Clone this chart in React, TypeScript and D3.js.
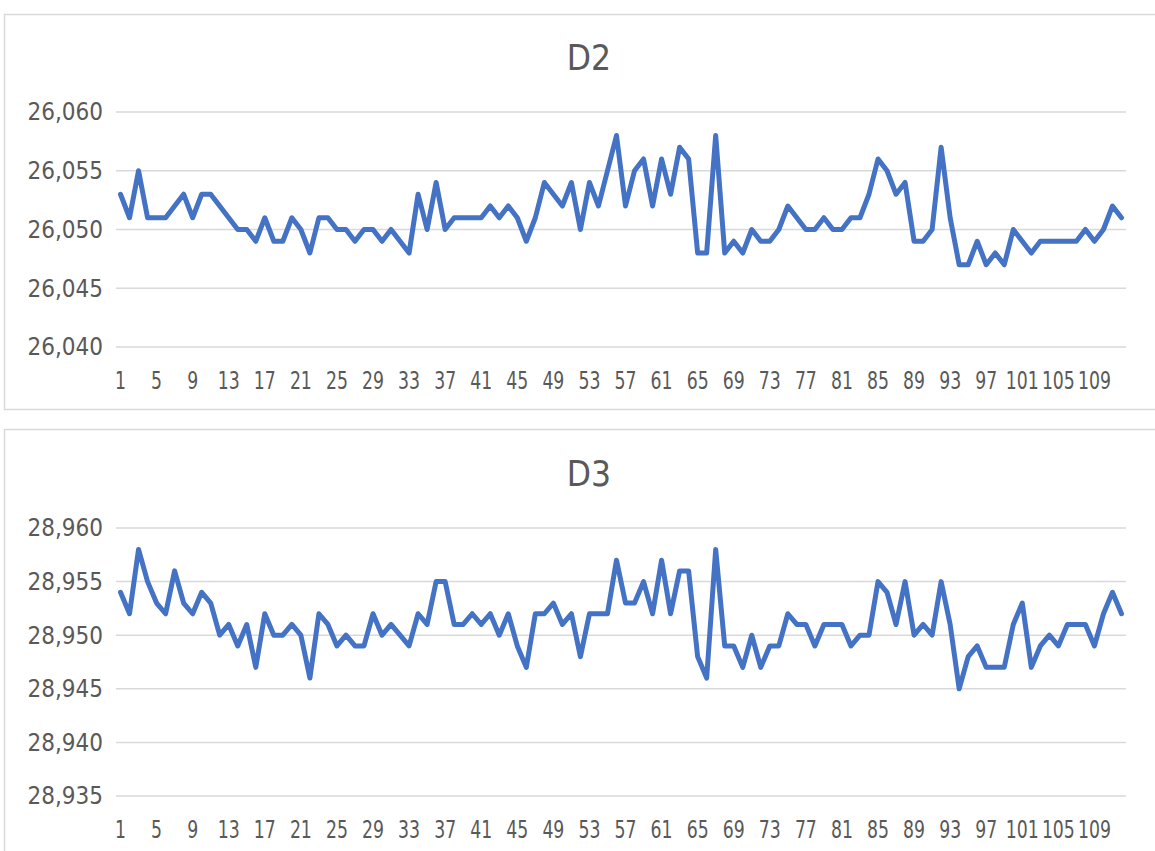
import React from "react";
import * as d3 from "d3";

const categories: number[] = Array.from({ length: 112 }, (_, i) => i + 1);

const d2Values: number[] = [
  26.053, 26.051, 26.055, 26.051, 26.051, 26.051, 26.052, 26.053, 26.051, 26.053,
  26.053, 26.052, 26.051, 26.050, 26.050, 26.049, 26.051, 26.049, 26.049, 26.051,
  26.050, 26.048, 26.051, 26.051, 26.050, 26.050, 26.049, 26.050, 26.050, 26.049,
  26.050, 26.049, 26.048, 26.053, 26.050, 26.054, 26.050, 26.051, 26.051, 26.051,
  26.051, 26.052, 26.051, 26.052, 26.051, 26.049, 26.051, 26.054, 26.053, 26.052,
  26.054, 26.050, 26.054, 26.052, 26.055, 26.058, 26.052, 26.055, 26.056, 26.052,
  26.056, 26.053, 26.057, 26.056, 26.048, 26.048, 26.058, 26.048, 26.049, 26.048,
  26.050, 26.049, 26.049, 26.050, 26.052, 26.051, 26.050, 26.050, 26.051, 26.050,
  26.050, 26.051, 26.051, 26.053, 26.056, 26.055, 26.053, 26.054, 26.049, 26.049,
  26.050, 26.057, 26.051, 26.047, 26.047, 26.049, 26.047, 26.048, 26.047, 26.050,
  26.049, 26.048, 26.049, 26.049, 26.049, 26.049, 26.049, 26.050, 26.049, 26.050,
  26.052, 26.051,
];

const d3Values: number[] = [
  28.954, 28.952, 28.958, 28.955, 28.953, 28.952, 28.956, 28.953, 28.952, 28.954,
  28.953, 28.950, 28.951, 28.949, 28.951, 28.947, 28.952, 28.950, 28.950, 28.951,
  28.950, 28.946, 28.952, 28.951, 28.949, 28.950, 28.949, 28.949, 28.952, 28.950,
  28.951, 28.950, 28.949, 28.952, 28.951, 28.955, 28.955, 28.951, 28.951, 28.952,
  28.951, 28.952, 28.950, 28.952, 28.949, 28.947, 28.952, 28.952, 28.953, 28.951,
  28.952, 28.948, 28.952, 28.952, 28.952, 28.957, 28.953, 28.953, 28.955, 28.952,
  28.957, 28.952, 28.956, 28.956, 28.948, 28.946, 28.958, 28.949, 28.949, 28.947,
  28.950, 28.947, 28.949, 28.949, 28.952, 28.951, 28.951, 28.949, 28.951, 28.951,
  28.951, 28.949, 28.950, 28.950, 28.955, 28.954, 28.951, 28.955, 28.950, 28.951,
  28.950, 28.955, 28.951, 28.945, 28.948, 28.949, 28.947, 28.947, 28.947, 28.951,
  28.953, 28.947, 28.949, 28.950, 28.949, 28.951, 28.951, 28.951, 28.949, 28.952,
  28.954, 28.952,
];

const d2Ticks: number[] = [26.04, 26.045, 26.05, 26.055, 26.06];
const d3Ticks: number[] = [28.935, 28.94, 28.945, 28.95, 28.955, 28.96];
const xTickLabels: number[] = categories.filter((c) => (c - 1) % 4 === 0);

const FONT = "'Liberation Sans Narrow', 'DejaVu Sans Condensed', 'Open Sans', sans-serif";
const TEXT = "#595959";
const GRID = "#d9d9d9";
const LINE = "#4472C4";

const fmt = (v: number) => d3.format(".3f")(v).replace(".", ",");

type PanelProps = {
  title: string;
  values: number[];
  ticks: number[];
  frameTop: number;
  frameHeight: number;
  titleY: number;
  plotTop: number;
  plotBottom: number;
  xLabelY: number;
};

function Panel(p: PanelProps) {
  const x = d3.scaleBand<number>().domain(categories).range([116, 1126]).padding(0);
  const y = d3
    .scaleLinear()
    .domain([p.ticks[0], p.ticks[p.ticks.length - 1]])
    .range([p.plotBottom, p.plotTop]);
  const cx = (c: number) => (x(c) as number) + x.bandwidth() / 2;
  const line = d3
    .line<number>()
    .x((_, i) => cx(categories[i]))
    .y((d) => y(d));
  return (
    <g>
      <rect
        x={4.5}
        y={p.frameTop + 0.5}
        width={1160}
        height={p.frameHeight}
        fill="#fff"
        stroke={GRID}
        strokeWidth={1.5}
      />
      <text
        x={589}
        y={p.titleY}
        textAnchor="middle"
        fill={TEXT}
        fontFamily={FONT}
        fontSize={35}
      >
        {p.title}
      </text>
      {p.ticks.map((t) => (
        <g key={t}>
          <line x1={116} x2={1126} y1={y(t)} y2={y(t)} stroke={GRID} strokeWidth={1.5} />
          <text
            x={103}
            y={y(t)}
            dy="0.35em"
            textAnchor="end"
            fill={TEXT}
            fontFamily={FONT}
            fontSize={24}
          >
            {fmt(t)}
          </text>
        </g>
      ))}
      {xTickLabels.map((c) => (
        <text
          key={c}
          x={cx(c)}
          y={p.xLabelY}
          textAnchor="middle"
          fill={TEXT}
          fontFamily={FONT}
          fontSize={24}
          transform={`translate(${cx(c)},0) scale(0.8,1) translate(${-cx(c)},0)`}
        >
          {c}
        </text>
      ))}
      <path
        d={line(p.values) || ""}
        fill="none"
        stroke={LINE}
        strokeWidth={5}
        strokeLinejoin="round"
        strokeLinecap="round"
      />
    </g>
  );
}

export default function App() {
  return (
    <div style={{ position: "absolute", left: 0, top: 0 }}>
      <svg width={1155} height={851} style={{ display: "block" }}>
        <rect x={0} y={0} width={1155} height={851} fill="#fff" />
        <Panel
          title="D2"
          values={d2Values}
          ticks={d2Ticks}
          frameTop={14}
          frameHeight={395}
          titleY={70}
          plotTop={112}
          plotBottom={347}
          xLabelY={389}
        />
        <Panel
          title="D3"
          values={d3Values}
          ticks={d3Ticks}
          frameTop={429}
          frameHeight={440}
          titleY={486}
          plotTop={528}
          plotBottom={796}
          xLabelY={838}
        />
      </svg>
    </div>
  );
}
